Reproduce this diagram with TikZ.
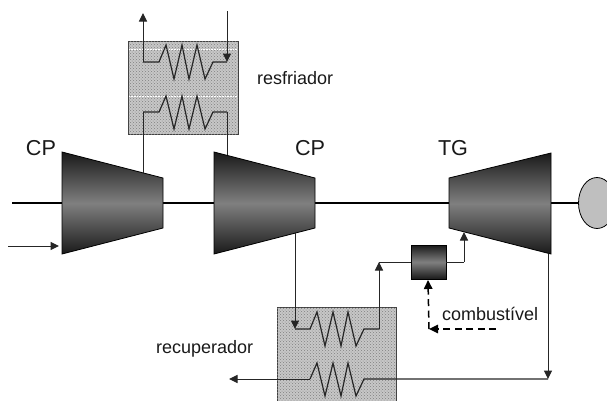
\documentclass[tikz,border=0pt]{standalone}
\usepackage{fontspec}
\setmainfont{Liberation Sans}
\usetikzlibrary{arrows.meta,patterns,shapes.geometric}
\tikzset{
  x=1pt,y=-1pt,
  flow/.style={line width=1pt,draw=black!85,-{Triangle[length=8.5pt,width=8pt]}},
  pipe/.style={line width=1pt,draw=black!85},
  coil/.style={line width=1.2pt,draw=black!85,line join=miter},
  fuel/.style={line width=1.5pt,dash pattern=on 7pt off 4.5pt,draw=black,-{Triangle[length=9pt,width=8.5pt]}},
  shaft/.style={line width=2.8pt,draw=black},
  hx/.style={draw=black!75,line width=0.8pt,fill=black!22,postaction={pattern=crosshatch dots,pattern color=black!50}},
  machine/.style={draw=black,line width=0.8pt,top color=black!90,bottom color=black!90,middle color=black!50},
  lab/.style={inner sep=0pt,font=\fontsize{18}{20}\selectfont,text=black!90},
  biglab/.style={inner sep=0pt,font=\fontsize{21.6}{24}\selectfont,text=black!90},
}
\begin{document}
\begin{tikzpicture}
\useasboundingbox (0,0) rectangle (607,400);
\clip (0,0) rectangle (607,400);
% coordinates
\coordinate (sh0) at (12,203);
\coordinate (c1L) at (62,203);
\coordinate (c1R) at (163,203);
\coordinate (c2L) at (214,203);
\coordinate (c2R) at (315,203);
\coordinate (tL) at (449,203);
\coordinate (tR) at (551,203);
\coordinate (gL) at (580,203);
% shaft
\draw[shaft] (sh0)--(c1L) (c1R)--(c2L) (c2R)--(tL) (tR)--(gL);
% generator
\node[ellipse,draw=black,line width=0.8pt,fill=black!25,minimum width=37pt,minimum height=51pt,inner sep=0pt] (gen) at (597,203) {};
% heat exchangers
\path[hx] (128,41) rectangle (238,134);
\path[hx] (277,307) rectangle (396,405);
% white stripes of the upper exchanger pattern
\draw[white,densely dotted,line width=0.6pt] (129,49)--(237,49) (129,96)--(237,96);
% machines
\path[machine] (62,152)--(163,178)--(163,228)--(62,254)--cycle;
\path[machine] (214,152)--(315,178)--(315,228)--(214,254)--cycle;
\path[machine] (449,178)--(551,153)--(551,254)--(449,228)--cycle;
\path[machine] (411,245) rectangle (446,279);
% intercooler connections
\coordinate (a1) at (143,173);
\coordinate (a2) at (143,112);
\coordinate (a3) at (227,112);
\coordinate (a4) at (227,155);
\coordinate (b1) at (143,62);
\coordinate (b2) at (143,13);
\coordinate (b3) at (227,62);
\coordinate (b4) at (227,11);
\draw[pipe] (a1)--(a2);
\draw[pipe] (a3)--(a4);
\draw[coil] (a2)--(159,112)--(166,96)--(174,129)--(182,96)--(189,129)--(197,96)--(205,129)--(213,112)--(a3);
\draw[flow] (b1)--(b2);
\draw[flow] (b4)--(b3);
\draw[coil] (b1)--(159,62)--(166,45)--(174,79)--(182,45)--(189,79)--(197,45)--(205,79)--(213,62)--(b3);
% recuperator
\coordinate (r1) at (295,233);
\coordinate (r2) at (295,329);
\coordinate (r3) at (379,329);
\coordinate (r4) at (379,262);
\draw[flow] (r1)--(r2);
\draw[coil] (r2)--(310,329)--(317,312)--(325,346)--(333,312)--(341,346)--(348,312)--(356,346)--(364,329)--(r3);
\draw[flow] (r3)--(r4);
\draw[pipe] (r4)--(411,262);
\coordinate (t1) at (464,262);
\coordinate (t2) at (464,232);
\draw[pipe] (446,262)--(t1);
\draw[flow] (t1)--(t2);
% exhaust
\coordinate (e1) at (548,254);
\coordinate (e2) at (548,379);
\coordinate (e3) at (229,379);
\draw[flow] (e1)--(e2);
\draw[coil] (e2)--(364,379)--(356,396)--(348,363)--(341,396)--(333,363)--(325,396)--(317,363)--(310,379);
\draw[flow] (310,379)--(e3);
% fuel
\coordinate (f1) at (496,329);
\coordinate (f2) at (429,329);
\coordinate (f3) at (428,280);
\draw[fuel] (f1)--(f2);
\draw[fuel] (f2)--(f3);
% inlet
\coordinate (i1) at (8,246);
\coordinate (i2) at (59,246);
\draw[flow] (i1)--(i2);
% labels
\node[biglab] (cp1) at (41,148) {CP};
\node[biglab] (cp2) at (310,148) {CP};
\node[biglab] (tg) at (453,148) {TG};
\node[lab,anchor=west] (res) at (257,78) {resfriador};
\node[lab,anchor=west] (rec) at (156,349) {recuperador};
\node[lab,anchor=west] (com) at (442,314) {combustível};
\end{tikzpicture}
\end{document}
